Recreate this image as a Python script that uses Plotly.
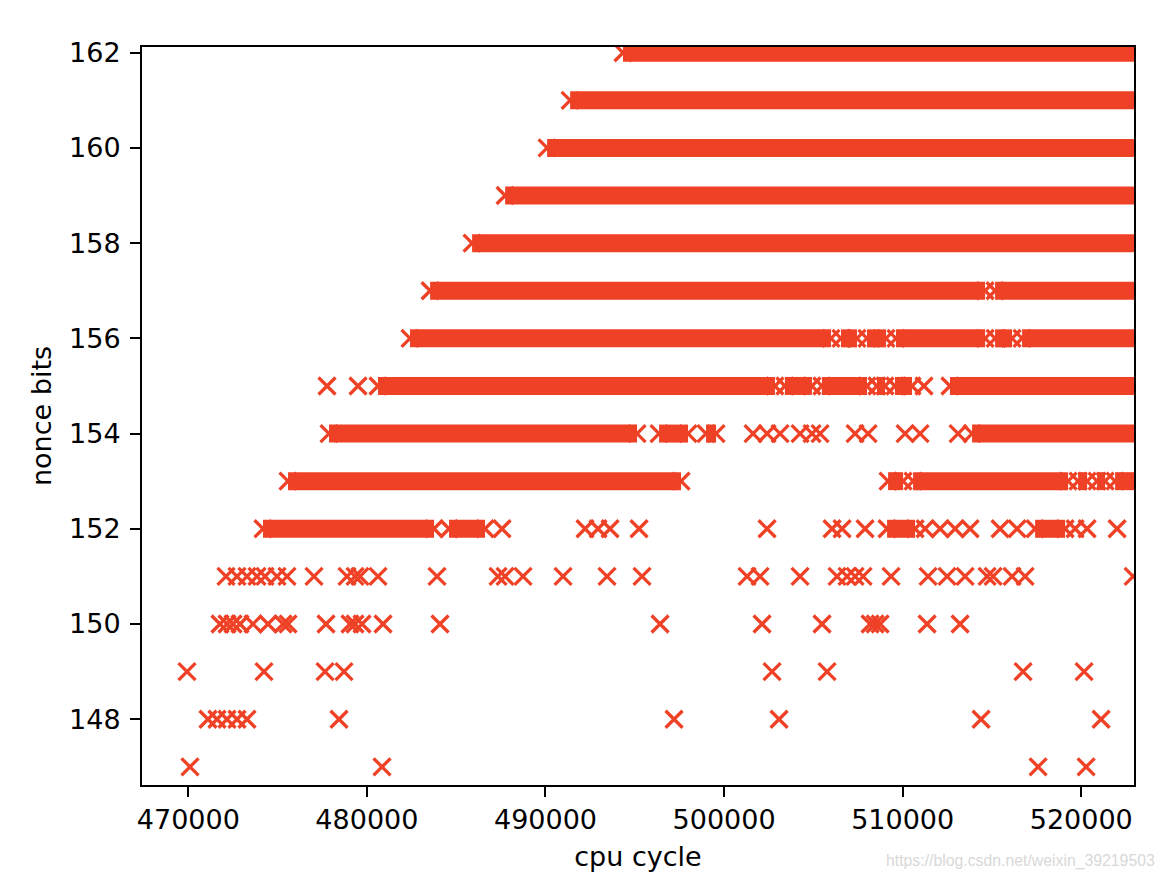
import plotly.graph_objects as go

# ---- data (cpu cycle values) ----
END = 523600  # bands run past the right edge of the axes

# dense runs of points drawn as solid bands: [start, end]
seg_162 = [[494340, END]]
seg_161 = [[491380, END]]
seg_160 = [[490090, END]]
seg_159 = [[487740, END]]
seg_158 = [[485890, END]]
seg_157 = [[483540, 514615], [515175, END]]
seg_156 = [[482415, 505985], [506545, 507441], [508001, 509065],
           [509625, 514615], [515175, 516127], [516687, END]]
seg_155 = [[480623, 502847], [503407, 504919], [505479, 508001],
           [508561, 509009], [509569, 510521], [512649, END]]
seg_154 = [[477879, 495127], [496359, 497983], [498991, 499551], [513887, END]]
seg_153 = [[475583, 497591], [509183, 510023], [510583, 519263],
           [519823, 520327], [520887, 521335], [521895, END]]
seg_152 = [[474183, 483759], [484599, 486615], [509127, 510695], [517415, 519095]]

# isolated points
pts_155 = [477767, 479503, 511193]
pts_154 = [501623, 502407, 503135, 504255, 504927, 505375, 507335, 508063,
           510135, 510975, 513103]
pts_152 = [487567, 492215, 492943, 493615, 495239, 502407, 506047, 506607,
           507895, 511255, 512095, 512935, 513775, 515455, 516407, 519655,
           520327, 522007]
pts_151 = [472111, 472727, 473287, 473847, 474295, 474967, 475527, 477039,
           478887, 479335, 479615, 480623, 483927, 487343, 487735, 488743,
           490983, 493447, 495407, 501287, 502015, 504255, 506327, 506887,
           507335, 507783, 509351, 511423, 512487, 513495, 514727, 515063,
           516127, 516855, 522903]
pts_150 = [471775, 472167, 472503, 472895, 473623, 474463, 475303, 475583,
           477711, 479055, 479335, 479727, 480903, 484095, 496415, 502127,
           505487, 508175, 508455, 508735, 511367, 513215]
pts_149 = [469927, 474239, 477655, 478719, 502687, 505767, 516743, 520159]
pts_148 = [471103, 471607, 472167, 472727, 473287, 478439, 497199, 503079,
           514391, 521111]
pts_147 = [470095, 480847, 517584, 520272]

segments = {162: seg_162, 161: seg_161, 160: seg_160, 159: seg_159,
            158: seg_158, 157: seg_157, 156: seg_156, 155: seg_155,
            154: seg_154, 153: seg_153, 152: seg_152}
points = {155: pts_155, 154: pts_154, 152: pts_152, 151: pts_151,
          150: pts_150, 149: pts_149, 148: pts_148, 147: pts_147}

x_ticks = [470000, 480000, 490000, 500000, 510000, 520000]
y_ticks = [148, 150, 152, 154, 156, 158, 160, 162]

RED = "#ee4126"
MSIZE = 17
MLW = 3.3

# ---- build traces ----
bx, by = [], []
for bits, segs in segments.items():
    for s, e in segs:
        bx += [s, e, None]
        by += [bits, bits, None]

px_, py_ = [], []
for bits, pts in points.items():
    px_ += pts
    py_ += [bits] * len(pts)

fig = go.Figure()
fig.add_trace(go.Scatter(
    x=bx, y=by, mode="lines+markers",
    line=dict(color=RED, width=18),
    marker=dict(symbol="x-thin", size=MSIZE, color=RED,
                line=dict(color=RED, width=MLW)),
    hoverinfo="skip", showlegend=False, connectgaps=False))
fig.add_trace(go.Scatter(
    x=px_, y=py_, mode="markers",
    marker=dict(symbol="x-thin", size=MSIZE, color=RED,
                line=dict(color=RED, width=MLW)),
    showlegend=False))

FONT = "DejaVu Sans"
fig.update_layout(
    width=1164, height=876,
    margin=dict(l=134, r=38, t=39, b=99),
    paper_bgcolor="white", plot_bgcolor="white",
    font=dict(family=FONT, size=27, color="black"),
    xaxis=dict(range=[467407, 522953], tickvals=x_ticks,
               ticktext=[str(v) for v in x_ticks],
               showgrid=False, zeroline=False, automargin=False,
               showline=True, mirror=True, linecolor="black", linewidth=2,
               ticks="outside", ticklen=10, tickwidth=2, tickcolor="black",
               tickfont=dict(family=FONT, size=27),
               title=dict(text="cpu cycle", font=dict(family=FONT, size=27),
                          standoff=13)),
    yaxis=dict(range=[146.618, 162.12], tickvals=y_ticks,
               showgrid=False, zeroline=False, automargin=False,
               showline=True, mirror=True, linecolor="black", linewidth=2,
               ticks="outside", ticklen=10, tickwidth=2, tickcolor="black",
               tickfont=dict(family=FONT, size=27),
               ticklabelstandoff=4,
               title=dict(text="nonce bits", font=dict(family=FONT, size=27),
                          standoff=10)),
    annotations=[dict(text="https://blog.csdn.net/weixin_39219503",
                      xref="paper", yref="paper", x=1.023, y=-0.103,
                      xanchor="right", yanchor="middle", showarrow=False,
                      font=dict(family="Liberation Sans", size=15.8,
                                color="#d8d8d8"))],
)

fig.write_html("out.html")
